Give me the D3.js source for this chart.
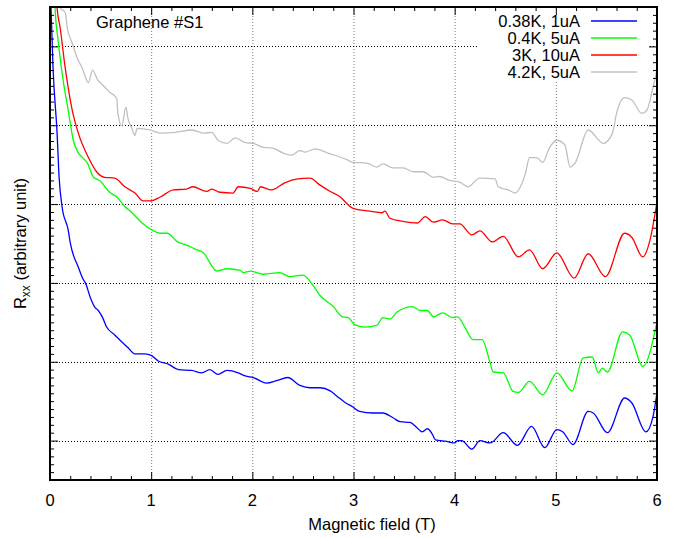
<!DOCTYPE html>
<html>
<head>
<meta charset="utf-8">
<script src="https://cdn.jsdelivr.net/npm/d3@7"></script>
<style>
  body { margin: 0; background: #fff; }
  text { font-family: "Liberation Sans", Arial, Helvetica, sans-serif; fill: #000; }
</style>
</head>
<body>
<div id="graph"></div>
<script>
// values: [field (T), Rxx (arbitrary unit)]
let blue = [[0.00,6.0],[0.01,5.49],[0.03,4.73],[0.07,3.90],[0.09,3.34],[0.12,2.96],[0.18,2.67],[0.20,2.51],[0.28,2.20],[0.33,2.04],[0.35,2.00],[0.40,1.81],[0.45,1.68],[0.47,1.66],[0.52,1.56],[0.56,1.44],[0.64,1.34],[0.71,1.25],[0.77,1.18],[0.84,1.10],[0.94,1.10],[1.00,1.08],[1.07,1.01],[1.17,0.97],[1.27,0.90],[1.40,0.89],[1.50,0.86],[1.58,0.90],[1.66,0.84],[1.75,0.89],[1.86,0.86],[1.93,0.82],[2.01,0.80],[2.14,0.73],[2.24,0.76],[2.35,0.80],[2.47,0.70],[2.57,0.67],[2.67,0.67],[2.77,0.63],[2.84,0.56],[2.92,0.48],[2.99,0.43],[3.06,0.37],[3.19,0.35],[3.29,0.35],[3.39,0.29],[3.46,0.24],[3.56,0.23],[3.63,0.16],[3.68,0.11],[3.73,0.15],[3.78,0.08],[3.81,0.01],[3.92,-0.01],[4.00,-0.03],[4.03,0.00],[4.07,0.00],[4.17,-0.11],[4.25,0.00],[4.35,-0.03],[4.48,0.10],[4.62,-0.06],[4.76,0.18],[4.89,-0.09],[5.01,0.14],[5.07,0.11],[5.17,-0.05],[5.32,0.37],[5.37,0.35],[5.51,0.10],[5.68,0.54],[5.75,0.48],[5.89,0.11],[5.96,0.30],[6.00,0.61]];

let green = [[0.04,6.0],[0.05,5.49],[0.08,5.08],[0.13,4.57],[0.18,4.19],[0.23,3.81],[0.28,3.65],[0.32,3.59],[0.37,3.52],[0.43,3.34],[0.49,3.30],[0.59,3.15],[0.66,3.09],[0.74,2.97],[0.81,2.89],[0.91,2.76],[1.01,2.67],[1.09,2.63],[1.16,2.63],[1.26,2.52],[1.35,2.48],[1.45,2.42],[1.51,2.39],[1.65,2.15],[1.75,2.18],[1.88,2.16],[1.91,2.13],[1.98,2.15],[2.11,2.11],[2.27,2.13],[2.37,2.08],[2.50,2.10],[2.60,1.97],[2.67,1.84],[2.80,1.70],[2.89,1.57],[2.95,1.56],[3.01,1.47],[3.11,1.44],[3.23,1.46],[3.29,1.56],[3.36,1.54],[3.43,1.63],[3.58,1.70],[3.66,1.65],[3.73,1.65],[3.79,1.57],[3.88,1.62],[3.98,1.56],[4.03,1.57],[4.10,1.44],[4.18,1.28],[4.27,1.28],[4.35,0.99],[4.38,0.87],[4.48,0.86],[4.58,0.62],[4.63,0.61],[4.74,0.75],[4.87,0.58],[5.01,0.86],[5.16,0.63],[5.27,1.05],[5.36,1.06],[5.42,0.86],[5.46,0.92],[5.51,0.87],[5.66,1.38],[5.73,1.34],[5.86,0.94],[6.00,1.51]];

let red = [[0.06,6.0],[0.07,5.49],[0.10,5.24],[0.15,4.73],[0.22,4.19],[0.28,3.90],[0.38,3.59],[0.46,3.41],[0.54,3.34],[0.64,3.33],[0.74,3.22],[0.84,3.14],[0.92,3.04],[0.99,3.04],[1.09,3.09],[1.22,3.18],[1.35,3.19],[1.41,3.22],[1.55,3.16],[1.60,3.19],[1.68,3.15],[1.81,3.14],[1.86,3.22],[1.98,3.20],[2.05,3.16],[2.08,3.22],[2.19,3.18],[2.32,3.27],[2.45,3.32],[2.57,3.33],[2.67,3.24],[2.77,3.16],[2.87,3.09],[2.94,3.00],[2.99,2.95],[3.16,2.91],[3.28,2.89],[3.31,2.91],[3.36,2.82],[3.49,2.78],[3.63,2.76],[3.71,2.84],[3.79,2.77],[3.88,2.80],[3.98,2.75],[4.05,2.75],[4.17,2.61],[4.25,2.66],[4.37,2.52],[4.48,2.59],[4.63,2.33],[4.74,2.42],[4.87,2.18],[5.01,2.38],[5.18,2.06],[5.32,2.37],[5.49,2.08],[5.68,2.63],[5.75,2.58],[5.86,2.33],[5.93,2.54],[6.00,3.03]];

let grey = [[0.09,6.0],[0.10,5.49],[0.15,5.43],[0.17,5.24],[0.22,5.04],[0.27,4.85],[0.32,4.72],[0.38,4.54],[0.42,4.70],[0.47,4.58],[0.52,4.51],[0.59,4.42],[0.66,4.34],[0.67,4.16],[0.71,3.99],[0.75,4.23],[0.77,4.09],[0.81,3.96],[0.84,3.87],[0.86,3.96],[0.99,3.94],[1.09,3.90],[1.24,3.91],[1.40,3.94],[1.53,3.90],[1.60,3.91],[1.66,3.81],[1.75,3.77],[1.83,3.84],[1.93,3.78],[2.01,3.77],[2.11,3.72],[2.20,3.71],[2.30,3.65],[2.39,3.62],[2.47,3.68],[2.52,3.66],[2.62,3.70],[2.74,3.65],[2.84,3.61],[2.94,3.56],[2.99,3.53],[3.13,3.52],[3.23,3.47],[3.29,3.51],[3.39,3.46],[3.49,3.46],[3.59,3.41],[3.69,3.41],[3.79,3.34],[3.85,3.35],[3.95,3.30],[4.05,3.28],[4.13,3.22],[4.25,3.33],[4.40,3.32],[4.43,3.22],[4.53,3.18],[4.60,3.14],[4.65,3.22],[4.70,3.39],[4.74,3.59],[4.81,3.59],[4.87,3.53],[4.94,3.72],[5.01,3.81],[5.09,3.75],[5.14,3.47],[5.19,3.52],[5.32,3.94],[5.47,3.77],[5.56,3.90],[5.60,4.15],[5.68,4.35],[5.75,4.32],[5.85,4.15],[5.90,4.19],[5.96,4.48],[6.00,4.70]];

let seriesNames = ["0.38K, 1uA", "0.4K, 5uA", "3K, 10uA", "4.2K, 5uA"];
let seriesColors = ["#0000ff", "#00ff00", "#ff0000", "#c0c0c0"];
let seriesData = [blue, green, red, grey];

let xTicks = [0, 1, 2, 3, 4, 5, 6];
let yGrid = [0, 1, 2, 3, 4, 5];

let options = {
  width: 684,
  height: 538,
  font: "16.5px",
  margins: { top: 7, right: 27, bottom: 58, left: 50 }
};

function renderGraph() {
  let m = options.margins;
  let w = options.width - m.left - m.right;
  let h = options.height - m.top - m.bottom;

  let svg = d3.select("#graph")
              .append("svg")
              .attr("width", options.width)
              .attr("height", options.height);

  let xScale = d3.scaleLinear().domain([0, 6]).range([m.left, m.left + w]);
  let yScale = d3.scaleLinear().domain([-0.5, 5.5]).range([m.top + h, m.top]);

  svg.append("clipPath").attr("id", "plot")
     .append("rect")
     .attr("x", m.left).attr("y", m.top)
     .attr("width", w).attr("height", h);

  // dotted grid
  svg.append("g").selectAll("line")
     .data(xTicks.slice(1, -1))
     .join("line")
     .attr("x1", d => xScale(d) + 0.5).attr("x2", d => xScale(d) + 0.5)
     .attr("y1", m.top).attr("y2", m.top + h)
     .attr("stroke", "#777").attr("stroke-dasharray", "1,2");

  svg.append("g").selectAll("line")
     .data(yGrid)
     .join("line")
     .attr("x1", m.left).attr("x2", m.left + w)
     .attr("y1", d => Math.round(yScale(d)) + 0.5).attr("y2", d => Math.round(yScale(d)) + 0.5)
     .attr("stroke", "#000").attr("stroke-dasharray", "1,2");

  // legend background hides the grid
  svg.append("rect")
     .attr("x", 477).attr("y", m.top + 1)
     .attr("width", 171).attr("height", 73)
     .attr("fill", "#fff");

  // curves
  let line = d3.line()
               .x(d => xScale(d[0]))
               .y(d => yScale(d[1]))
               .curve(d3.curveMonotoneX);

  svg.append("g")
     .attr("clip-path", "url(#plot)")
     .selectAll("path")
     .data(seriesData.slice().reverse())
     .join("path")
     .attr("d", line)
     .attr("fill", "none")
     .attr("stroke", (d, i) => seriesColors[3 - i])
     .attr("stroke-width", 1.3)
     .attr("stroke-linejoin", "round");

  // ticks on all four sides, pointing inward
  let xMinor = d3.range(0, 6.01, 0.2).filter(v => Math.abs(v - Math.round(v)) > 0.01);
  let yMinor = d3.range(-0.4, 5.41, 0.1).filter(v => Math.abs(v - Math.round(v)) > 0.01);

  let tickSets = [
    [d3.axisBottom(xScale).tickValues(xTicks).tickSize(-8), `translate(0,${m.top + h})`],
    [d3.axisTop(xScale).tickValues(xTicks).tickSize(-8), `translate(0,${m.top})`],
    [d3.axisBottom(xScale).tickValues(xMinor).tickSize(-4), `translate(0,${m.top + h})`],
    [d3.axisTop(xScale).tickValues(xMinor).tickSize(-4), `translate(0,${m.top})`],
    [d3.axisLeft(yScale).tickValues(yGrid).tickSize(-8), `translate(${m.left},0)`],
    [d3.axisRight(yScale).tickValues(yGrid).tickSize(-8), `translate(${m.left + w},0)`],
    [d3.axisLeft(yScale).tickValues(yMinor).tickSize(-4), `translate(${m.left},0)`],
    [d3.axisRight(yScale).tickValues(yMinor).tickSize(-4), `translate(${m.left + w},0)`]
  ];
  tickSets.forEach(([axis, tr]) => {
    svg.append("g").attr("transform", tr)
       .call(axis.tickFormat(""))
       .call(g => g.select(".domain").remove());
  });

  svg.selectAll(".tick line").attr("stroke", "#000").attr("stroke-width", 1);

  // frame
  svg.append("rect")
     .attr("x", m.left).attr("y", m.top)
     .attr("width", w).attr("height", h)
     .attr("fill", "none").attr("stroke", "#000").attr("stroke-width", 2);

  // x tick labels
  svg.append("g").selectAll("text")
     .data(xTicks)
     .join("text")
     .attr("x", d => xScale(d))
     .attr("y", m.top + h + 26)
     .attr("text-anchor", "middle")
     .style("font-size", options.font)
     .text(d => d);

  svg.append("text")
     .attr("x", 372)
     .attr("y", 530)
     .attr("text-anchor", "middle")
     .style("font-size", options.font)
     .text("Magnetic field (T)");

  let ylab = svg.append("text")
     .attr("transform", `translate(26,${m.top + h / 2}) rotate(-90)`)
     .attr("text-anchor", "middle")
     .style("font-size", options.font);
  ylab.append("tspan").text("R");
  ylab.append("tspan").attr("dy", 4).style("font-size", "12px").text("xx");
  ylab.append("tspan").attr("dy", -4).text(" (arbitrary unit)");

  svg.append("text")
     .attr("x", 96).attr("y", 28)
     .style("font-size", options.font)
     .text("Graphene #S1");

  // legend
  let legend = svg.append("g").attr("id", "legend");
  seriesNames.forEach((name, i) => {
    let y = 21 + i * 17;
    legend.append("text")
          .attr("x", 580).attr("y", y + 6)
          .attr("text-anchor", "end")
          .style("font-size", options.font)
          .text(name);
    legend.append("line")
          .attr("x1", 591).attr("x2", 637)
          .attr("y1", y).attr("y2", y)
          .attr("stroke", seriesColors[i])
          .attr("stroke-width", 1.3);
  });
}

renderGraph();
</script>
</body>
</html>
